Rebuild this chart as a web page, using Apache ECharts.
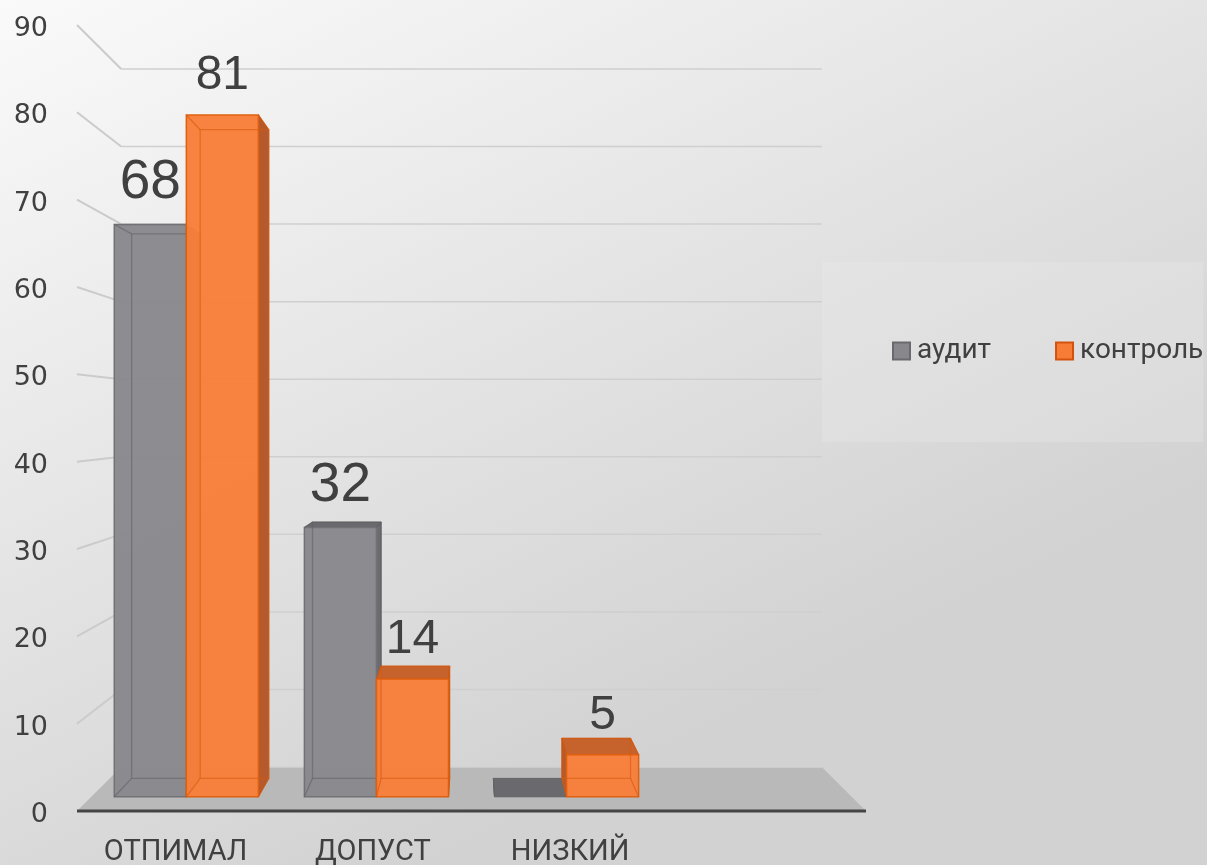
<!DOCTYPE html>
<html><head><meta charset="utf-8">
<script src="https://cdn.jsdelivr.net/npm/echarts@6/dist/echarts.min.js"></script>
<style>html,body{margin:0;padding:0;background:#eee;}#c{width:1207px;height:865px;}</style>
</head><body><div id="c"></div>
<script>
// ---- data ----
const categories = ['ОТПИМАЛ', 'ДОПУСТ', 'НИЗКИЙ'];
const seriesNames = ['аудит', 'контроль'];
const auditValues = [68, 32, 0];
const controlValues = [81, 14, 5];
const yTicks = [0, 10, 20, 30, 40, 50, 60, 70, 80, 90];

// axis slots: one empty slot on the right (floor extends past the last category)
const axisSlots = categories.concat(['']);

// perspective depths (relative to the front plane of the floor)
const DEPTH = { front: 0.9638, back: 0.917, wall: 0.888 };

function projector(cs) {
  const vx = cs.x + cs.width / 2, vy = cs.y + cs.height / 2;
  return { vx, vy, P: (x, y, s) => [vx + (x - vx) * s, vy + (y - vy) * s] };
}

function poly(points, style) {
  return { type: 'polygon', shape: { points }, style };
}
function seg(a, b, style) {
  return { type: 'line', shape: { x1: a[0], y1: a[1], x2: b[0], y2: b[1] }, style };
}

function makeBarRender(slot, st) {
  return function (params, api) {
    const cs = params.coordSys;
    const { vx, vy, P } = projector(cs);
    const c = api.value(0), v = api.value(1);
    const top = api.coord([c, v]), base = api.coord([c, 0]);
    const band = api.size([1, 0])[0];
    const w = band * 0.379;
    const xa = top[0] - w + slot * w, xb = xa + w;
    const yt = top[1], yb = base[1];
    const sf = DEPTH.front, sb = DEPTH.back;
    const F = [P(xa, yt, sf), P(xb, yt, sf), P(xb, yb, sf), P(xa, yb, sf)];
    const B = [P(xa, yt, sb), P(xb, yt, sb), P(xb, yb, sb), P(xa, yb, sb)];
    const ch = [];
    if (xb < vx) ch.push(poly([F[1], B[1], B[2], F[2]], { fill: st.side, stroke: st.edge, lineWidth: 1 }));
    if (xa > vx) ch.push(poly([F[0], B[0], B[3], F[3]], { fill: st.side, stroke: st.edge, lineWidth: 1 }));
    if (yt > vy) ch.push(poly([F[0], F[1], B[1], B[0]], { fill: st.top, stroke: st.edge, lineWidth: 1 }));
    if (v > 0) {
      ch.push(poly(F, { fill: st.front, stroke: st.outline, lineWidth: 1.5 }));
      // back edges seen through the translucent bar
      ch.push(poly(B, { fill: 'none', stroke: st.inner, lineWidth: 1.3 }));
      for (let i = 0; i < 4; i++) ch.push(seg(F[i], B[i], { stroke: st.inner, lineWidth: 1.3 }));
      const fs = st.fontSize;
      ch.push({
        type: 'text',
        style: {
          text: String(v),
          x: (F[0][0] + F[1][0]) / 2,
          y: F[0][1] - 22 - 0.36 * fs,
          align: 'center', verticalAlign: 'middle',
          font: fs + 'px "Liberation Sans", Arial, sans-serif',
          fill: '#404040'
        }
      });
    }
    return { type: 'group', children: ch };
  };
}

function renderDecor(params, api) {
  const cs = params.coordSys;
  const { P } = projector(cs);
  const v = api.value(1);
  const y = api.coord([0, v])[1];
  const x0 = cs.x, x1 = cs.x + cs.width, sw = DEPTH.wall;
  const ch = [];
  if (v === 0) {
    ch.push(poly([P(x0, y, 1), P(x1, y, 1), P(x1, y, sw), P(x0, y, sw)], { fill: '#b9b9b9' }));
    ch.push(seg(P(x0, y, sw), P(x1, y, sw), { stroke: '#d2d2d2', lineWidth: 1.5 }));
    ch.push(seg(P(x0, y, 1), P(x1, y, 1), { stroke: '#454545', lineWidth: 3 }));
  } else {
    ch.push(seg(P(x0, y, sw), P(x1, y, sw), { stroke: '#cfcfcf', lineWidth: 1.5 }));
    ch.push(seg(P(x0, y, 1), P(x0, y, sw), { stroke: '#cbcbcb', lineWidth: 2 }));
  }
  return { type: 'group', children: ch };
}

const grayStyle = {
  front: 'rgba(137,136,141,0.97)', side: '#6c6c70', top: '#6a6a6e',
  outline: '#727276', edge: '#626266', inner: 'rgba(95,95,100,0.55)', fontSize: 55
};
const orangeStyle = {
  front: 'rgba(248,127,58,0.97)', side: '#b55a2c', top: '#c6622c',
  outline: '#e0600f', edge: '#c0561a', inner: 'rgba(215,90,15,0.6)', fontSize: 48
};

const chart = echarts.init(document.getElementById('c'), null, { renderer: 'canvas' });
chart.setOption({
  animation: false,
  backgroundColor: {
    type: 'linear', x: 0, y: 0, x2: 0.35, y2: 1,
    colorStops: [{ offset: 0, color: '#fafafa' }, { offset: 1, color: '#d2d2d2' }]
  },
  grid: { left: 77, right: 341, top: 25, bottom: 54, outerBoundsMode: 'none', containLabel: false },
  legend: {
    orient: 'horizontal',
    left: 822, top: 262, width: 340,
    padding: [75, 0, 77, 70],
    backgroundColor: 'rgba(236,236,236,0.3)',
    icon: 'rect', itemWidth: 17, itemHeight: 17, itemGap: 64,
    textStyle: { fontFamily: 'Roboto', fontSize: 28, color: '#404040', lineHeight: 18, padding: [0, 0, 0, 2] },
    data: [
      { name: seriesNames[0], itemStyle: { color: '#88888c', borderColor: '#6a6a6e', borderWidth: 2 } },
      { name: seriesNames[1], itemStyle: { color: '#f77d37', borderColor: '#d4520e', borderWidth: 2 } }
    ]
  },
  xAxis: {
    type: 'category', data: axisSlots, boundaryGap: true,
    axisLine: { show: false }, axisTick: { show: false }, splitLine: { show: false },
    axisLabel: { margin: 27, fontFamily: 'Roboto', fontSize: 29, color: '#404040' }
  },
  yAxis: {
    type: 'value', min: 0, max: 90, interval: 10,
    axisLine: { show: false }, axisTick: { show: false }, splitLine: { show: false },
    axisLabel: { margin: 29, fontFamily: 'DejaVu Sans', fontSize: 27, color: '#404040', verticalAlign: 'top', lineHeight: 8 }
  },
  series: [
    {
      type: 'custom', name: '_decor', z: 1, silent: true,
      renderItem: renderDecor,
      encode: { x: 0, y: 1 },
      data: yTicks.map(v => [0, v])
    },
    {
      type: 'custom', name: seriesNames[0], z: 2,
      itemStyle: { color: '#88888c' },
      renderItem: makeBarRender(0, grayStyle),
      encode: { x: 0, y: 1 },
      data: auditValues.map((v, i) => [i, v])
    },
    {
      type: 'custom', name: seriesNames[1], z: 3,
      itemStyle: { color: '#f77d37' },
      renderItem: makeBarRender(1, orangeStyle),
      encode: { x: 0, y: 1 },
      data: controlValues.map((v, i) => [i, v])
    }
  ]
});
</script>
</body></html>
